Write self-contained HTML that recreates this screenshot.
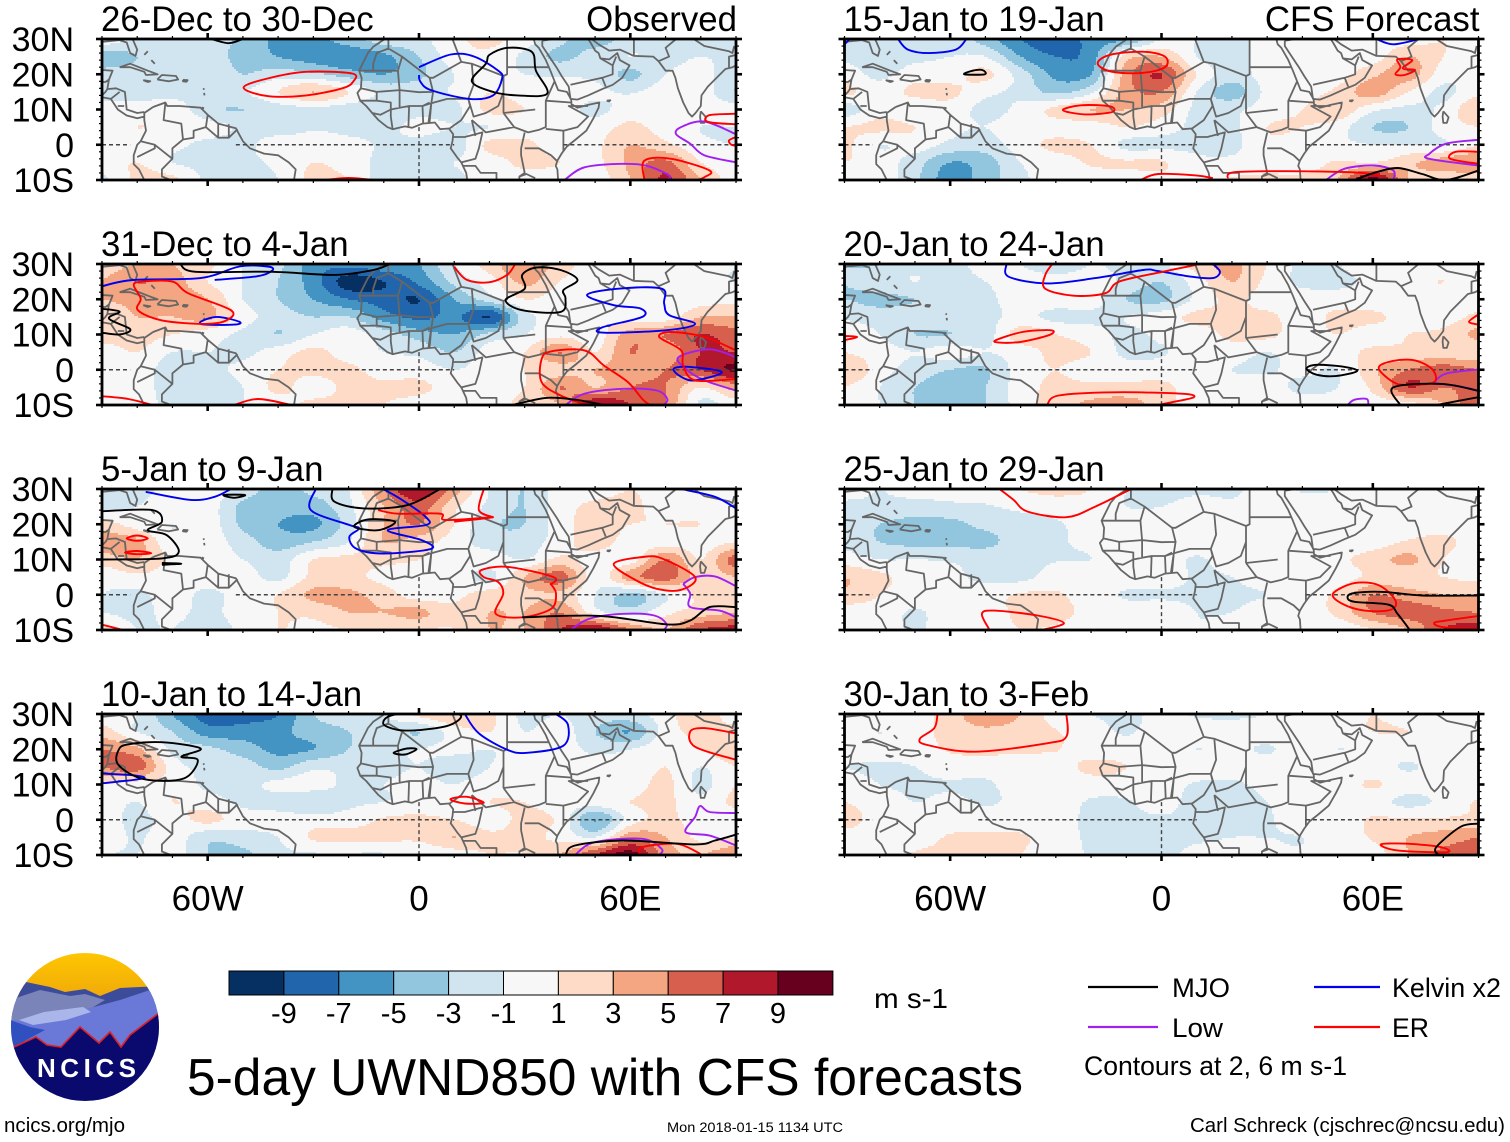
<!DOCTYPE html>
<html lang="en">
<head>
<meta charset="utf-8">
<title>5-day UWND850 with CFS forecasts</title>
<style>
html,body{margin:0;padding:0;background:#fff;}
svg{display:block;font-family:"Liberation Sans",Arial,sans-serif;}
</style>
</head>
<body>
<svg id="figure" xmlns="http://www.w3.org/2000/svg" width="1510" height="1142" viewBox="0 0 1510 1142">
  <rect x="0" y="0" width="1510" height="1142" fill="#fff"/>
  <g id="panels"></g>
  <g id="colorbar"></g>
  <text x="874" y="1008" font-size="28" textLength="74" lengthAdjust="spacingAndGlyphs">m s-1</text>
  <g>
    <defs>
      <clipPath id="logoClip"><ellipse cx="85" cy="1027" rx="74" ry="74"/></clipPath>
      <linearGradient id="sunGrad" x1="0" y1="0" x2="0" y2="1"><stop offset="0" stop-color="#ffc800"/><stop offset="1" stop-color="#f0a80a"/></linearGradient>
    </defs>
    <g clip-path="url(#logoClip)">
      <rect x="10" y="950" width="150" height="50" fill="url(#sunGrad)"/>
      <path d="M10 982 L26 982 L50 987 L65 992 L85 989 L100 996 L120 988 L160 986 L160 1020 L10 1030Z" fill="#3d4c9a"/>
      <path d="M10 1000 L40 990 L70 996 L85 994 L105 1000 L85 1012 L40 1018 L10 1030Z" fill="#7a84b8"/>
      <path d="M10 1020 L40 1022 L90 1008 L120 1000 L150 990 L160 1000 L160 1100 L10 1100Z" fill="#6a78d8"/>
      <path d="M19 1020 L44 1012 L83 1007 L91 1012 L66 1020 L33 1025Z" fill="#aab6ea"/>
      <path d="M10 1020 L30 1027 L45 1030 L30 1038 L14 1047 L10 1050Z" fill="#3050c0"/>
      <path d="M8 1047 L14 1047 L36 1037 L47 1045 L61 1047 L80 1027 L99 1043 L110 1032 L121 1047 L130 1035 L160 1012 L160 1105 L8 1105Z" fill="#0a0a6e"/>
      <path d="M14 1047 L36 1037 L47 1045 L61 1047 L80 1027 L99 1043 L110 1032 L121 1047 L130 1035 L159 1013" fill="none" stroke="#e02020" stroke-width="1.6"/>
    </g>
    <text x="37" y="1077" font-size="26" font-weight="bold" fill="#fff" textLength="99" lengthAdjust="spacing">NCICS</text>
  </g>
  <text x="187" y="1095" font-size="52" textLength="836" lengthAdjust="spacingAndGlyphs">5-day UWND850 with CFS forecasts</text>
  <g>
    <line x1="1088" x2="1158" y1="987" y2="987" stroke="#000" stroke-width="2.2"/>
    <text x="1172" y="997" font-size="27" textLength="58" lengthAdjust="spacingAndGlyphs">MJO</text>
    <line x1="1314" x2="1380" y1="987" y2="987" stroke="#0000ee" stroke-width="2.2"/>
    <text x="1392" y="997" font-size="27" textLength="109" lengthAdjust="spacingAndGlyphs">Kelvin x2</text>
    <line x1="1088" x2="1158" y1="1027" y2="1027" stroke="#a020f0" stroke-width="2.2"/>
    <text x="1172" y="1037" font-size="27" textLength="51" lengthAdjust="spacingAndGlyphs">Low</text>
    <line x1="1314" x2="1380" y1="1027" y2="1027" stroke="#ff0000" stroke-width="2.2"/>
    <text x="1392" y="1037" font-size="27" textLength="37" lengthAdjust="spacingAndGlyphs">ER</text>
    <text x="1084" y="1075" font-size="27" textLength="263" lengthAdjust="spacingAndGlyphs">Contours at 2, 6 m s-1</text>
  </g>
  <text x="4" y="1132" font-size="20" textLength="121" lengthAdjust="spacingAndGlyphs">ncics.org/mjo</text>
  <text x="667" y="1132" font-size="13.5" textLength="176" lengthAdjust="spacingAndGlyphs">Mon 2018-01-15 1134 UTC</text>
  <text x="1190" y="1132" font-size="20" textLength="315" lengthAdjust="spacingAndGlyphs">Carl Schreck (cjschrec@ncsu.edu)</text>
</svg>
<script>
// ---------- axes ----------
const gridLons = [-90,-80,-70,-60,-50,-40,-30,-20,-10,0,10,20,30,40,50,60,70,80,90];
const gridLats = [30,25,20,15,10,5,0,-5,-10];
const xTickLons = [-60,0,60];
const xTickLabels = ['60W','0','60E'];
const yTickLats = [30,20,10,0,-10];
const yTickLabels = ['30N','20N','10N','0','10S'];
const colorLevels = ['#053061','#2166ac','#4393c3','#92c5de','#d1e5f0','#f7f7f7','#fddbc7','#f4a582','#d6604d','#b2182b','#67001f'];
const colorbarTicks = [-9,-7,-5,-3,-1,1,3,5,7,9];
const panelTitles = ['26-Dec to 30-Dec','31-Dec to 4-Jan','5-Jan to 9-Jan','10-Jan to 14-Jan','15-Jan to 19-Jan','20-Jan to 24-Jan','25-Jan to 29-Jan','30-Jan to 3-Feb'];

// ---------- zonal wind anomaly (m/s), rows = gridLats, columns = gridLons ----------
const uDec26 = [
[0.5,-1.5,-1.5,-2,-3.5,-5.5,-5.5,-4,-2,-1.5,0.5,1.5,0,-2.5,-4,-2,-1.5,-2,-2],
[-4.5,-3,-2,-2.5,-3.5,-5,-6,-6.5,-5.5,-3,0,0.5,-1.5,-3.5,-2,-1,-1.5,-1,-1.5],
[-2,-2,-1.5,-1.5,-3,-2,-2.5,-4,-5,-3.5,-1,0,-1,-1.2,-1.5,-3.5,-1,-0.5,-2],
[-1.5,-2,-2,-1.5,-1.2,1,3,1,-1.5,-1.5,-0.8,1,0,0,-0.5,-1.2,0,0,-3],
[-0.5,0,0.5,-2.5,-3,-2,-1.5,-2,-2.5,-1.5,-1.5,1.5,1,0,-1.5,0,0,0,0],
[0,1,0.5,0,-1.5,-2,-1.2,-1.5,-1.5,-0.5,-1,-1,0,0,0,1.5,0,-1,-1],
[0.5,0,-0.5,-1.5,-1.5,0,0,-0.5,-1.2,-1.5,-2,1.5,1.5,0,0.5,3,1.5,-0.5,-1],
[0,1,-1,-1.5,-1.5,-0.5,1,0,-1.5,-1.5,-1,0,1.5,1,0.5,3.5,5.5,1,0],
[-1.5,1.5,1.5,-1.5,-2,-1,1.5,1,-2,-2,-1.5,0,0,0,0,3,7.5,3,0]];
const uDec31 = [
[2,3,3,1.5,-1,-2.5,-6,-6.5,-5.5,-5,-1,2,5,2,0,0,0,0,-1],
[3,5,4,1,-1,-3,-6,-10,-9,-6.5,-2.5,0,3.5,1,0,0,0,-0.5,-1],
[3,3.5,4,3,-1,-3,-5,-7,-8,-9,-5,-2,1,0,0.5,0,-0.5,0,0.5],
[2,3,3,3.5,0,-2,-3,-3,-6,-7.5,-6.5,-9,-2,0,0.5,0,0,3,3],
[2,2,1,0,-1.5,-3,-1,0,-2,-4,-5,-2.5,-1,0.5,0,4,5,7,6],
[0,1,-1,-1,-1.5,0,1.5,0,-1,-1.5,-3,0,1,5,1,5,3.5,7,7],
[0,0,-2,-1.5,-0.5,1,1.5,1.5,0,0,-1,0,1,2,3,4,5,7,9.5],
[0.5,0,-2,-2,-1,1.5,0,1.5,1.5,1.5,0,0,1,5,3,5,5,1,4],
[0,0.5,-2,-1.5,-1,0,1.5,1.5,1,0,-1,-0.5,2,3,9,7,5,-1.5,0]];
const uJan5 = [
[-3,-2,0,0.5,-2,-3.5,-2.5,-1,5,9,4,-1,-3,0,0,1,0,0,-1],
[-2,-1,0,0,-3.5,-4,-4,-1.5,3,6,1.5,-1.5,-3,0,1.5,1.5,0,0,0],
[2,0,-1,0,-3.5,-5,-5.5,-2,3,5,1,-2.5,-3,0,2,1,1,1,0],
[4,3.5,-0.5,0,-2,-4,-3,-1,3,2,0,-2,-2,0,2,0,0,0,1],
[2,3,0.5,0,-1,-2,1,1.5,1.5,1,0,0,-1,1.5,0,0,5,1,6],
[-0.5,0.5,0,0,0,-1.5,1.5,1.5,0.5,0,0,-1.5,3,6,0,4,6,2,3],
[-1,-1.5,0,-1.5,0,1,3.5,3.5,2,0,0.5,2,2.5,2.5,-1,-3.5,-1,1.5,2],
[-1,-1.5,-0.5,-1.5,0,1,1.5,3,3,3.5,1.5,3,3,5,0,-2,0.5,2,3],
[1.5,-1,-1,-2,-0.5,1,0.5,1,1,1,1,3,3,7,9,5,3,7,8]];
const uJan10 = [
[0,-1,-5,-8,-8,-7,-3,-2,-1,1.5,3,1.5,-1.5,-1,-2,-1.5,0,3,-1],
[2,-1,-3,-6,-6,-5.5,-4,-3,-2,-3,0,1,-1,0,-3,-5,0,1.5,2],
[5,3.5,-1.5,-2.5,-4,-5.5,-5,-3,-1.5,-1,-0.5,-1,0,0,-1.5,-1,0.5,1,3],
[5,6,0,-1.5,-2,-3.5,-1.5,-1.5,-1.5,-1,-2,-1,0.5,0,0,-0.5,1,-1,1],
[1,0,0.5,-1.5,-1.5,-0.5,0,-1.5,-1,-0.5,-1,0,0,0,-0.5,0,1.5,-1.5,1],
[0,-1,1,0,-1.5,-2,-3,-1.5,-1,-0.5,-0.5,1,1,0,0,1,1.5,-0.5,1.5],
[0,-1.5,0,1.5,0,0,0,0,1.2,1.5,1,0,1.5,0.5,-5,0,1.5,0,0],
[0,-1.2,0,-2.5,-2,-1,1.2,1.5,1.5,1.5,3,1.5,1.5,0.5,-1,4.5,3,0.5,1],
[-1,-1,0,-3,-3.5,-1.5,-1.2,-1.2,-1.2,-1,0,1,1,3,7,10,4,3,5]];
const uJan15 = [
[-3,-1.5,-2,-1.5,-4,-7,-8,-6.5,-5,-1,-1,-2,0,-0.5,0,0,0,1,0],
[-1.5,-2,-1.5,-1,-1,-5,-7,-6,2,3,-1,-2,0,0,0,0,3,1,0],
[0,-1.5,0,0,1.5,-2,-5.5,-5,4,7,1,-2,0,0,0,2.5,4,0,0],
[1.5,0,1.5,1.5,-0.5,-1.5,-3.5,-1.5,4,5,-1,-4,-0.5,0,1.5,4,1,-1.5,0.5],
[-2,0,-0.5,0,-1.5,-0.5,1.5,3,3,2,-1.5,-1.5,0,1,2.5,-0.5,-1.5,-0.5,3],
[1,1.5,1,-0.5,-1,0,0,0,1,0,-1.5,-1.5,1,1,0,-3,-3,0,1],
[1.5,-1,0,-1.5,-2,0,1.5,1,-1.5,-1.5,-1.5,-1.5,0.5,0,-0.5,-1,-1,-1,1],
[1,0,-2,-5,-4,-1,0,1.2,1.2,1.2,-0.5,-0.5,0,0,1.2,1,2.5,4,5],
[0,0,-2.5,-6,-4,-1.5,0,0,0,0.5,0,1.2,1.5,1.5,3,10,3,1.5,1.5]];
const uJan20 = [
[-3,-3,-1.5,-2,0,-1,-2.5,-1,-1.5,-1.5,2,3.5,1,-1.5,-1,0,0,0,0],
[-3,-2,-1,-2,-1,0,0,0,-1.5,-3,0,3,0.5,-1.5,-1.5,-0.5,0,1,-1],
[-3,-3.5,-3,-2,-1.5,0,0,0,-3,-3.5,-0.5,1.5,0,0,0,-0.5,0,0,0],
[-1.5,-2,-2,-1.5,-1.5,-0.5,-1.5,-1.5,-1,0,1.5,1.5,1.5,0,1.5,1.5,0,0,1.5],
[1,-1,-3,-3,-2,2,1,0,-1.5,-0.5,0,1.5,1.5,0,1,0,1,1.5,3.5],
[1,0,-1,0,-1,0,1.5,1,-1.5,-1.2,0,0,-1,0,0,1.5,1.5,1.5,1.5],
[3,0,-2,-3,-3.2,0,1,0,0,0,0,-1,-1.2,-0.5,-1,2.5,5,6,5],
[1,-1,-3,-3.5,-3,0,1.5,1.5,1.5,1.5,0,0,0,-1.5,-1,1.5,7,5,6],
[0,-1,-3,-3.5,-3,0,2,3.5,4,2,0,1,0,0,0,0,0,3,7]];
const uJan25 = [
[0,-1,0,0,0,1,1.5,1,-1,-2,-1.5,-1.5,0,-1.2,-1,0,0,0,0],
[-1.5,-1.5,-2,-1.5,-1.2,-0.5,0,0,-1,-1,0,-0.5,0,0,0,0,0,0,-1],
[-1.5,-3,-3.5,-3.5,-2.5,-2,-1.3,0,0,0,0,0,0,0,0,0,0,0,0],
[-1.5,-3,-3.5,-3.5,-3.5,-2,-1.3,-0.5,0,0,0,0,0,0,0,0,1.2,1.5,0],
[0,-1,-1,-1.2,-1.7,-1.7,-1.1,-1,0,0,-1.2,0,0,0,0.5,2,3.5,1,0],
[3,1.5,0,-0.5,-1.5,-1.6,0,0,0,0,-1.2,-1,0,0,0,1.5,1.5,1,0.5],
[2.5,1,0,0,0,1.2,1.2,0,-1.2,-1.2,-1.3,-1.3,-1,0,1.5,5,4,3,3],
[0,0,-1.2,0,0.5,1.2,1.5,0.5,0,0,-1,-1,0,0,1.5,5,6,5.5,5],
[0,0,-1.2,0,0.5,1,0.8,0,0,0,-1,0,0,0,-0.5,1,3,7,8]];
const uJan30 = [
[0,0,0,2,4.5,3,0,-1,-1.5,-0.5,-1.2,-1.2,-1,0,0,1,0,0,0],
[0,-1,0,1.8,2.5,2,1.1,0,-1.2,0,0,-0.5,0,-0.5,0,1,1,0,0],
[0,-0.5,0,1.2,1.5,1.3,1.1,0,0,0,-1,-0.5,-1.2,0,-1,-0.5,0,0,0],
[-1,-1.2,-1,0,0,0,0,1.5,1,0,0,0,0,0,0,0,-1.2,0,0],
[0,-1,-1.2,-1.2,-1.3,0,0,0,0,0,-1.2,-1.3,-0.5,0,0,1.2,0,0,0],
[1,0,-1,-0.5,-1.2,-0.5,0,-1.2,-1.2,0,-2,-1.8,-1,0,0,-0.2,-1.5,-0.5,1.2],
[2,0,0,0,0,0,0,-1.5,-1.6,-1.3,-1.5,-1.5,-1.2,0,0,1.2,1.2,1.3,1.5],
[0,0,0,1.2,1.3,1.2,0,-1.3,-1.3,-1.3,-1.3,-1,-1,-1,0,1.2,3,4,5],
[0,0,1.2,1.5,1.5,1,0,-1.2,-1.5,-1.5,-0.5,0,-0.5,-0.8,0,0,3,5.5,5.5]];
const panelFields = [uDec26,uDec31,uJan5,uJan10,uJan15,uJan20,uJan25,uJan30];

// ---------- filtered-wave contours, flat lon,lat lists ----------
const contoursDec26 = {
 er:[[-49.8,16.2,-43,18.8,-32,20.7,-19,20.2,-18.7,17.9,-21.8,16,-32,14,-43,13.8,-49.8,16.2],[64,-10,64,-4.5,71.6,-4,82.5,-7.3,81,-9.2,79,-10],[90,8.8,82.5,8.4,82,6.5,90,5.8],[90,2.2,88,1.2,88.7,0,90,-0.2],[-26.6,-10,-20,-9.4,-13,-10]],
 kelvin:[[0,22,9,25.6,15.7,25,22.5,21,23.6,18.8,21,14,14.3,13,3.4,15.5,0.4,17.9,0,19.8]],
 mjo:[[20,25.5,25.2,27.5,32,26.4,33.2,21,36.4,14.5,28,14,21,15,15,18,19,23,20,25.5],[-59,30,-54,28.8,-50,30]],
 low:[[41.3,-10,47,-6.4,58,-5.4,64.8,-6,71,-8.7,70.5,-10],[90,3,81,6.6,74.4,5,73,3,77,0.3,81,-3,90,-5]]};
const contoursDec31 = {
 er:[[-81,24,-78.6,25,-70,25,-65.5,21.7,-53.4,16.9,-54.7,14,-60.7,13,-73,14,-79.8,16.9,-79,20.2,-81,24],[10,29.2,13.6,25.5,19.8,24.8,25,26.9,27.3,30],[90,5.5,81,9.3,71.6,10.7,68.2,9.3,74.4,5.5,75,1.2,78.4,-3,90,-2.6],[47.7,-10,40.2,-7.3,34.8,-3.5,34.8,3,37.5,5.2,47,5.5,52.5,1.2,59.3,-3.5,63.4,-8.3,65.5,-10],[-90,-7.5,-82.5,-8.3,-75.7,-10],[-52.5,-10,-45.7,-8.3,-36.2,-10]],
 kelvin:[[-90,23.7,-81,25.5,-62,26,-51,29.3,-43,29.3,-41.6,28.2,-46,26.5,-58,25.5],[-62,13.6,-57.3,15,-51,13.6,-52.4,12.8,-60.7,12.8,-62,13.6],[47.7,21.2,56.6,23,68.9,23,69.6,18.8,71,15.5,78.4,13,70,11.2,52.5,10.5,52,12,63.4,15,62.8,17.4,55.3,18.3,47.7,21.2],[72.3,0.3,77,0.8,86,-0.7,78.4,-3,74.4,-2,72.3,0.3]],
 mjo:[[-67.8,30,-63.4,27.8,-41.6,27.8,-23.9,26.9,-13,28.3,-8.2,30],[-90,17.3,-85,16.5,-88,14.5,-82,11.5,-85,10,-90,10.5],[33.4,29,29.3,26.9,30,23,24.6,19.8,29.3,16.9,40.2,16.4,41.6,20.2,41,22.6,45,25.5,40.2,28.3,33.4,29],[26.6,-10,36,-8,44.3,-8.5,52.5,-10]],
 low:[[41.6,-10,47,-6.8,58,-5.4,67.5,-5.9,70.5,-8.3,69.5,-10],[90,3.6,82.5,5.8,73.7,3.6,75.7,0.3,81,-3,90,-5.9]]};
const contoursJan5 = {
 er:[[-83,16,-80,16.8,-77,16,-80,15.3,-83,16],[-83.5,12,-80,12.4,-76,11.8,-80,11.5,-83.5,12],[-11.6,24,-6,23,6,23,7.5,21.2,21,22,10,20.7],[18.4,30,17,24,21,22],[17.7,7,25.2,7.9,38.2,5,37.5,3,37.5,3,38.9,0.3,37.5,-4,29.3,-6.4,21.8,-5.4,23.9,0.3,22.5,3.6,18.4,5,17.7,7],[55.3,8.8,63.4,10.7,68.9,10.3,78.4,5,74.4,1.4,67.5,1.7,60.7,4.6,55.3,8.8],[-90,-8.5,-84,-10]],
 kelvin:[[-77.6,29.2,-64.8,26.9,-58,27.8,-53.4,30],[-29.3,30,-30.7,24,-19.8,19.8,-17,18.8,-19.8,16.4,-17.7,13,-10.2,11.7,3.4,13,0.7,15.5,-8.9,18.3,2,19.8,2,22,-4.8,26.9,-10.2,30],[74.4,30,84,27.8,90,24.5]],
 mjo:[[-55.5,28.3,-49.4,28.3,-52.5,27.5,-55.5,28.3],[-90,23.7,-75.7,24,-73,20.7,-77,18.3,-71.6,16.9,-68.2,12.2,-73,10.3,-90,10],[-73,9,-67.5,8.8,-73,8.5],[-24.6,30,-24,26.4,-15.7,24.5,-3.4,25.4,6,30],[-18.4,19.3,-14.3,21.4,-6.8,20.7,-11.6,18.3,-18.4,19.3],[29.3,-6.4,51.2,-6,70.3,-8.4,77,-7.3,82.5,-3.5,90,-3.5]],
 low:[[75,3.1,78.4,5,84,5.2,90,2.4],[75,3.1,77,0.3,77,-3.5,85.3,-4.5,90,-6.4],[43,-10,48.4,-6.8,58,-5.4,66.8,-5.9,70.3,-8.3,69.5,-10]]};
const contoursJan10 = {
 er:[[8.9,5.8,13.6,6.5,18.4,4.8,13,4.6,8.9,5.8],[90,24.5,81,26,77,25,78.4,20.7,90,17],[62.8,-10,63.4,-7.8,73,-6.8,79,-9.2,80,-10]],
 kelvin:[[-90,10.3,-78.4,11.7,-81,12.6,-90,13.1],[13,30,17,24.5,25.2,19.8,30.7,19,41,21,42.3,26.9,38.9,30]],
 mjo:[[-10.2,27.4,-6,30,11,30,8.9,26.9,0.7,25.5,-6,25.5,-10.2,27.4],[-7.2,19,-3.4,20.2,-0.7,20,-4,18.5,-7.2,19],[-85.3,19.8,-82.5,21.4,-73,22,-62,20.2,-67.5,17.9,-62.8,16.9,-66.8,11.7,-78,11.5,-85.3,15.5,-85.3,19.8],[41.6,-10,44.3,-7.3,58,-5.9,78.4,-7,84,-5.9,90,-4.2]],
 low:[[90,1.9,82.5,2.2,79.8,3.9,78.4,0.8,75.7,-3.5,82.5,-4.5,90,-7.3],[44.3,-10,49.8,-6.4,63.4,-5.4,68.9,-8.3,68.2,-10]]};
const contoursJan15 = {
 er:[[-18.1,23,-14.7,25.5,-5.2,26.4,1,25,1,22,-5.2,20.4,-14,20.7,-18.1,23],[-28,9.8,-22.9,11.2,-14.7,10.9,-14,9.3,-21.6,8.6,-28,9.8],[-5.9,-10,-1,-8.3,9.8,-8.7,14.6,-9.5],[18.7,-9.5,20.7,-7.8,35.7,-7.5,53.5,-7.8,62,-8.5],[90,-2,83.5,-2,82,-4,90,-5.4],[67,24.2,71.2,24,68.5,21.7,72,21.2,69,19.8,66.4,20,67.8,22,67,24.2]],
 kelvin:[[-74.8,30,-72,27,-66,26,-58.4,27,-55.4,30],[-90,28.5,-88.5,30],[61,30,65.8,28.5,73.3,30]],
 mjo:[[-56,20,-53.6,21,-50.9,21.2,-50.2,20,-56,20],[54.8,-10,60.3,-8,67,-6.6,74,-8.3,80.8,-10,90,-7.3]],
 low:[[46.7,-10,52,-6.8,60.3,-5.9,65.8,-7.3,65.8,-10],[90,1.4,80.8,0.3,76,-2.6,76,-4,90,-5.9]]};
const contoursJan20 = {
 er:[[-31,30,-33,26.9,-33,23,-25,21,-16,21.7,-12,25,0.3,27.8,11,30],[-47,8.4,-39.5,10.7,-31.3,11.2,-32,9.8,-40,7.9,-46,7.7,-47,8.4],[-90,9.6,-86.4,9.3,-90,8.4],[-32.5,-10,-29.2,-7.3,-13.4,-6.4,5.7,-6.8,9.2,-7.8,3,-9.2,-1,-10],[61.7,0.3,64.4,2.2,71.2,2.8,76.7,0.3,77.4,-3.5,69.8,-4.3,65.8,-3.5,61.7,0.3],[90,15.7,87.3,13.6,90,12.8]],
 kelvin:[[-44,30,-43.4,26.4,-32.5,24.5,-18.8,26,-5.2,28.3,-1,28,8.5,26.4,14.6,26,16.6,27.8,14.6,30]],
 mjo:[[41.2,0.3,44,1.4,52,0.8,55.5,-0.4,49.4,-1.8,44,-1.4,41.2,0.3],[67.8,-10,65.8,-5,79.4,-4,90,-6],[78,-10,90,-7.8]],
 low:[[77.4,-3.5,80.8,-1.1,90,0.1],[77.4,-3.7,86.2,-5,90,-6],[52.8,-10,54.8,-8.5,58.3,-8.3,58.7,-10]]};
const contoursJan25 = {
 er:[[-46,30,-42,26.9,-38,23.6,-27,22,-18.8,25,-8.6,30],[-48.8,-10,-51,-5.4,-47.4,-4.5,-35.2,-5.9,-27.7,-8,-33.8,-10],[48.7,0.3,54.8,3.3,61.7,2.7,66.4,-1.6,65,-4.3,57.6,-4.5,51.4,-2.6,48.7,0.3],[90,-6,80.8,-7.3,77.4,-8,80,-9.2,90,-9.7]],
 kelvin:[],
 mjo:[[90,-0.2,74,-0.2,63,0.8,54.8,0.5,52.8,-0.7,54.8,-2,64.4,-2.8,67,-5.4,70.5,-10]],
 low:[]};
const contoursJan30 = {
 er:[[-63.6,30,-64.5,26,-68.6,23,-66.5,21.2,-52.9,19.3,-32.5,21.7,-27,23.6,-27,30],[62.3,-7,69.8,-6.8,79.4,-7.8,80.8,-9.2,67,-8.7,62.3,-7]],
 kelvin:[],
 mjo:[[78.7,-10,78,-7.8,84.9,-2,90,-1.1]],
 low:[]};
const panelContours = [contoursDec26,contoursDec31,contoursJan5,contoursJan10,contoursJan15,contoursJan20,contoursJan25,contoursJan30];
const contourColors = {er:'#ff0000',kelvin:'#0000ee',mjo:'#000000',low:'#a020f0'};

// ---------- basemap, flat lon,lat lists ----------
const coastlines = [
[-9.7,30,-13,27.8,-14.5,26,-17,21,-16.3,19,-16.5,16,-17.5,14.7,-16.7,12.5,-15,11,-13.3,9,-11.5,7,-9,5,-7.5,4.4,-4,5.2,-2,4.8,1,6,4.5,6.3,6,4.4,8.5,4.6,9.7,3,9.5,1,9,-1,11,-3.8,12,-5,13.4,-8,13.7,-10],
[39.5,-10,39.3,-7,38.8,-6,39.3,-4.5,40.5,-2.5,42,-0.5,44.5,1.5,47.5,4,49.5,7.5,51,10.5,51.2,12,48,11.3,45,10.5,43.3,11.5,43.2,12.8,42,15,39.5,15.5,38.5,18,37.3,21,36,24,34,27.5,33,28.5,32.6,30],
[35,29.5,35,28,37,25,39,22,40.5,19.5,42.5,16.5,43,13,45,12.8,48,14,52,15.8,55,17,57.7,19,59.8,22.5,57,24,56.3,26,54,24.2,51.5,24.5,51,26,50,26.7,48.7,29,48,30],
[49,30,51,28.5,54,26.7,57,27,61,25.2,66.5,25,68,23.7,70,21,72,21,72.8,19,73.5,16,75,12,76.5,9,77.5,8,78.5,9,80,11,80.2,14,82,16.5,85,19.5,87,21.5,89,22,90,22.5],
[80,9.5,81.5,7.8,81,6.2,80,6.2,79.8,8,80,9.5],
[53.3,12.5,54.3,12.6,54,12.3,53.3,12.5],
[-75.5,10.7,-72,12,-71.5,11,-68,11,-62,10.5,-60,8.5,-57,6,-52,4.7,-50,1,-48,-1,-44,-2.5,-40,-3,-37,-5,-35,-7,-35.5,-10],
[-75.5,10.7,-78,9,-78,7,-77.5,4,-79,1,-80,0,-81,-3,-81,-5.5,-79.5,-7,-78,-10],
[-90,13.5,-87.5,13,-85.5,10,-83,8.3,-80,7.5,-78,8],
[-78,9.3,-80,9,-83,10,-83.5,15,-86,16,-88.5,15.8,-88,18.5,-87,21,-90,21.2],
[-90,29.2,-85,29.7,-83,29,-82,26,-80.5,25.2,-80,27,-81.3,30],
[-85,22,-82,23,-77,21,-74.2,20,-77.5,19.8,-78,20.7,-82,22,-85,22],
[-74.3,18.5,-73,19.8,-69,19.5,-68.4,18.5,-71,18,-74.3,18.5],
[-78.3,18.3,-76.3,18,-77,17.8,-78.3,18.3],
[-67,18.4,-65.7,18.3,-66,17.9,-67,18,-67,18.4],
[-78,25.5,-77,26.5],[-76,24,-75,23],[-61.2,16,-61,15.6],[-61,14.7,-60.9,14],[-61.7,10.6,-61,10.3]];
const borders = [
[-17,21,-13,21,-13,23,-12,26,-8.7,27.3,-8.7,30],[-13,21,-6,21,-4.8,25,-8.7,27.3],[-6,21,-5.5,15.5,-12,15,-16.5,16],
[-4.8,25,3,19,4,19,12,23.5,9.5,30],[3,19,4,15,0,14.9,-5.5,15.5,-5.5,10.5],[4,15,3.5,11.8,8,13,14,13,15.5,17,15,23,12,23.5],
[15,23,24,19.5,24,15,22.5,11,19,9,15.5,8,14,13],[25,30,25,22,37,22],[24,19.5,25,20,25,22],
[24,9,27,5,31,3.5,34,4.2,36,5,36,12.5,38.5,18],[24,15,24,9],[24,9,33,10],
[36,12.5,43,12],[43,11,42.5,11,48,8,45,5,41,4,36,4.5],[43,11,48,11],[41,4,41,-1.7],
[30,-1,34,-1,37.5,-3,39.3,-4.7],[12.3,-6,16,-6,17.5,-8,22,-8,22,-10],[15,7,19,3.5,27,5],[15,7,16,2.5],
[9.5,2.2,13,2.2,18,3.5,17,-1,16,-4,12,-5],[3,6.4,3.5,11.8],[14,13,14.5,11,12,7,8.7,4.6],
[-3,5,-2.8,11,1,11,1.2,6.1],[2.7,6.4,3.5,11.8,1,11],[-5.5,10.5,-2.8,11],[1,11,3,12],
[-7.5,4.4,-8,8,-8,10,-5.5,10.5],[-12,12.5,-8,12,-8,10,-11,8.5,-13.3,9],[-16.7,12.5,-12,12.5,-12,15],
[35,29.5,38,30],[43,17,52,19,55,20,55,22.5,51.5,24.5],[52,19,53,16.5],[55,22.5,56,25],
[30,3.5,29,-1,29,-3,30,-8,28.5,-9,28.5,-10],[39.5,-10.4,34.7,-11],[28.5,-9,30.5,-8.3,33,-9.5],
[-72,12,-72.5,7,-67.5,6,-67,1.5],[-79,1,-75,0,-70,-4,-70,-1,-67,1.5],[-80,-3.5,-75,-1,-75,0],[-70,-4,-73,-7,-73,-9,-70.5,-10],
[-60,8.5,-60.5,5,-57,2,-54,2,-51.5,4.4],[-57,6,-57,2],[-54,5.8,-54,2],[-67,1.5,-64,2,-64,4,-60.5,5],
[-88,18.5,-89,17.8,-90,17.8],[-90,14,-89,15,-88.5,15.8],[-87.5,13,-85,15],[-85.5,11,-83.7,11],
[61,25.2,61,30],[68,23.7,71,25,70,27.5,73,30],[78,30,81,28,88,26.5,89,26,89.5,28],[88,22,88,25,90,25.5]];

// ---------- axis functions ----------
const panelLefts = [102,102,102,102,844.5,844.5,844.5,844.5];
const panelTops = [39,264,489,714,39,264,489,714];
const panelW = 634, panelH = 141;
const LON0 = -90, LON1 = 90, LAT0 = -10, LAT1 = 30;
function xScale(p, lon){ return panelLefts[p] + (lon - LON0) / (LON1 - LON0) * panelW; }
function yScale(p, lat){ return panelTops[p] + (LAT1 - lat) / (LAT1 - LAT0) * panelH; }
function xInverse(p, x){ return LON0 + (x - panelLefts[p]) / panelW * (LON1 - LON0); }
function yInverse(p, y){ return LAT1 - (y - panelTops[p]) / panelH * (LAT1 - LAT0); }
function levelIndex(v){ return Math.max(0, Math.min(colorLevels.length - 1, Math.floor((v + 11) / 2))); }

function cubic(a,b,c,d,t){
  return b + 0.5*t*(c-a + t*(2*a-5*b+4*c-d + t*(3*(b-c)+d-a)));
}
function sampleField(f, lon, lat){
  var gx = (lon - gridLons[0]) / (gridLons[1] - gridLons[0]);
  var gy = (gridLats[0] - lat) / (gridLats[0] - gridLats[1]);
  var ix = Math.max(0, Math.min(gridLons.length - 2, Math.floor(gx)));
  var iy = Math.max(0, Math.min(gridLats.length - 2, Math.floor(gy)));
  var tx = gx - ix, ty = gy - iy, rows = [];
  for (var j = -1; j <= 2; j++){
    var r = f[Math.max(0, Math.min(gridLats.length - 1, iy + j))];
    var g = function(k){ return r[Math.max(0, Math.min(gridLons.length - 1, k))]; };
    rows.push(cubic(g(ix-1), g(ix), g(ix+1), g(ix+2), tx));
  }
  return cubic(rows[0], rows[1], rows[2], rows[3], ty);
}
const SVGNS = 'http://www.w3.org/2000/svg';
function make(tag, parent){ var el = document.createElementNS(SVGNS, tag); parent.appendChild(el); return el; }
function flatToPoly(p, flat){
  var s = '';
  for (var i = 0; i < flat.length; i += 2){ s += (i ? 'L' : 'M') + xScale(p, flat[i]).toFixed(1) + ' ' + yScale(p, flat[i+1]).toFixed(1); }
  return s;
}
function flatToSmooth(p, flat){
  var pts = [];
  for (var i = 0; i < flat.length; i += 2){ pts.push([xScale(p, flat[i]), yScale(p, flat[i+1])]); }
  var n = pts.length, closed = n > 3 && flat[0] === flat[flat.length-2] && flat[1] === flat[flat.length-1];
  var get = function(i){
    if (closed){ var m = n - 1; return pts[((i % m) + m) % m]; }
    return pts[Math.max(0, Math.min(n - 1, i))];
  };
  var d = 'M' + pts[0][0].toFixed(1) + ' ' + pts[0][1].toFixed(1);
  for (var k = 0; k < n - 1; k++){
    var a = get(k-1), b = get(k), c = get(k+1), e = get(k+2);
    d += 'C' + (b[0]+(c[0]-a[0])/6).toFixed(1) + ' ' + (b[1]+(c[1]-a[1])/6).toFixed(1) + ' ' +
         (c[0]-(e[0]-b[0])/6).toFixed(1) + ' ' + (c[1]-(e[1]-b[1])/6).toFixed(1) + ' ' +
         c[0].toFixed(1) + ' ' + c[1].toFixed(1);
  }
  return d + (closed ? 'Z' : '');
}

// ---------- draw ----------
const panelsRoot = document.getElementById('panels');
const defsEl = make('defs', panelsRoot);
panelFields.forEach(function(field, p){
  var L = panelLefts[p], T = panelTops[p];
  var clip = make('clipPath', defsEl);
  clip.setAttribute('id', 'panelClip' + p);
  var clipRect = make('rect', clip);
  clipRect.setAttribute('x', L); clipRect.setAttribute('y', T);
  clipRect.setAttribute('width', panelW); clipRect.setAttribute('height', panelH);

  var g = make('g', panelsRoot);
  
  

  var body = make('g', g);
  
  
  body.setAttribute('clip-path', 'url(#panelClip' + p + ')');

  // heatmap cells merged along each row
  var heat = make('g', body);
  
  
  heat.setAttribute('shape-rendering', 'crispEdges');
  var step = 2, x0 = Math.floor(L), y0 = Math.floor(T);
  for (var y = y0; y < T + panelH; y += step){
    var lat = yInverse(p, y + step / 2), runStart = x0, runLevel = -1;
    for (var x = x0; x <= L + panelW + step; x += step){
      var level = x > L + panelW ? -2 : levelIndex(sampleField(field, xInverse(p, x + step / 2), lat));
      if (level !== runLevel){
        if (runLevel >= 0){
          var cell = make('rect', heat);
          
          
          cell.setAttribute('x', runStart);
          cell.setAttribute('y', y);
          cell.setAttribute('width', x - runStart);
          cell.setAttribute('height', step);
          cell.setAttribute('fill', colorLevels[runLevel]);
        }
        runStart = x; runLevel = level;
      }
    }
  }

  // basemap
  var coastPath = '', borderPath = '';
  coastlines.forEach(function(c){ coastPath += flatToPoly(p, c); });
  borders.forEach(function(c){ borderPath += flatToPoly(p, c); });
  var coast = make('path', body);
  
  
  coast.setAttribute('d', coastPath + borderPath);
  coast.setAttribute('fill', 'none');
  coast.setAttribute('stroke', '#666');
  coast.setAttribute('stroke-width', '1.8');
  coast.setAttribute('stroke-linejoin', 'round');

  // reference lines over the oceans
  [[-90,-82],[-52,10],[41,90]].forEach(function(r){
    var eq = make('line', body);
    
    
    eq.setAttribute('x1', xScale(p, r[0])); eq.setAttribute('x2', xScale(p, r[1]));
    eq.setAttribute('y1', yScale(p, 0)); eq.setAttribute('y2', yScale(p, 0));
    eq.setAttribute('stroke', '#444'); eq.setAttribute('stroke-width', '1.4');
    eq.setAttribute('stroke-dasharray', '4 3');
  });
  var pm = make('line', body);
  
  
  pm.setAttribute('x1', xScale(p, 0)); pm.setAttribute('x2', xScale(p, 0));
  pm.setAttribute('y1', yScale(p, 5)); pm.setAttribute('y2', yScale(p, -10));
  pm.setAttribute('stroke', '#444'); pm.setAttribute('stroke-width', '1.4');
  pm.setAttribute('stroke-dasharray', '4 3');

  // wave contours
  var cset = panelContours[p];
  ['low','kelvin','er','mjo'].forEach(function(kind){
    cset[kind].forEach(function(flat){
      var line = make('path', body);
      
      
      line.setAttribute('d', flatToSmooth(p, flat));
      line.setAttribute('fill', 'none');
      line.setAttribute('stroke', contourColors[kind]);
      line.setAttribute('stroke-width', '1.9');
    });
  });

  // frame
  var frame = make('rect', g);
  
  
  frame.setAttribute('x', L); frame.setAttribute('y', T);
  frame.setAttribute('width', panelW); frame.setAttribute('height', panelH);
  frame.setAttribute('fill', 'none'); frame.setAttribute('stroke', '#000'); frame.setAttribute('stroke-width', '2.8');

  // ticks
  var ticks = make('g', g);
  
  
  ticks.setAttribute('stroke', '#000');
  for (var lon = -90; lon <= 90; lon += 10){
    var major = xTickLons.indexOf(lon) >= 0, len = major ? 6 : 3;
    [[T, -len],[T + panelH, len]].forEach(function(q){
      var t = make('line', ticks);
      
      
      t.setAttribute('x1', xScale(p, lon)); t.setAttribute('x2', xScale(p, lon));
      t.setAttribute('y1', q[0]); t.setAttribute('y2', q[0] + q[1]);
      t.setAttribute('stroke-width', major ? '2.6' : '1.2');
    });
  }
  for (var la = -10; la <= 30; la += 2){
    var majorY = yTickLats.indexOf(la) >= 0, lenY = majorY ? 6 : 3;
    [[L, -lenY],[L + panelW, lenY]].forEach(function(q){
      var t = make('line', ticks);
      
      
      t.setAttribute('x1', q[0]); t.setAttribute('x2', q[0] + q[1]);
      t.setAttribute('y1', yScale(p, la)); t.setAttribute('y2', yScale(p, la));
      t.setAttribute('stroke-width', majorY ? '2.6' : '1.2');
    });
  }

  // panel title
  var title = make('text', g);
  
  
  title.setAttribute('x', L - 1);
  title.setAttribute('y', T - 8);
  title.setAttribute('font-size', '34.8');
  title.textContent = panelTitles[p];

  // y tick labels (left column only)
  if (p < 4){
    yTickLats.forEach(function(v, i){
      var lab = make('text', g);
      
      
      lab.setAttribute('x', 74);
      lab.setAttribute('y', yScale(p, v) + 12);
      lab.setAttribute('font-size', '34');
      lab.setAttribute('text-anchor', 'end');
      lab.textContent = yTickLabels[i];
    });
  }
  // x tick labels (bottom row only)
  if (p === 3 || p === 7){
    xTickLons.forEach(function(v, i){
      var lab = make('text', g);
      
      
      lab.setAttribute('x', xScale(p, v));
      lab.setAttribute('y', T + panelH + 55.5);
      lab.setAttribute('font-size', '35');
      lab.setAttribute('text-anchor', 'middle');
      lab.textContent = xTickLabels[i];
    });
  }
});

// column headers
const columnHeaders = ['Observed','CFS Forecast'];
const columnHeaderPanels = [0,4];
columnHeaders.forEach(function(txt, i){
  var p = columnHeaderPanels[i];
  var h = make('text', panelsRoot);
  
  
  h.setAttribute('x', panelLefts[p] + panelW + 1);
  h.setAttribute('y', panelTops[p] - 8);
  h.setAttribute('font-size', '34.8');
  h.setAttribute('text-anchor', 'end');
  h.textContent = txt;
});

// colorbar
const cbRoot = document.getElementById('colorbar');
const cbLeft = 229, cbTop = 971, cbHeight = 24, cbBox = 54.9;
colorLevels.forEach(function(col, i){
  var box = make('rect', cbRoot);
  
  
  box.setAttribute('x', cbLeft + i * cbBox);
  box.setAttribute('y', cbTop);
  box.setAttribute('width', cbBox);
  box.setAttribute('height', cbHeight);
  box.setAttribute('fill', col);
  box.setAttribute('stroke', '#000');
  box.setAttribute('stroke-width', '1');
});
colorbarTicks.forEach(function(v, i){
  var lab = make('text', cbRoot);
  
  
  lab.setAttribute('x', cbLeft + (i + 1) * cbBox);
  lab.setAttribute('y', 1023);
  lab.setAttribute('font-size', '29');
  lab.setAttribute('text-anchor', 'middle');
  lab.textContent = String(v);
});
</script>
</body>
</html>
